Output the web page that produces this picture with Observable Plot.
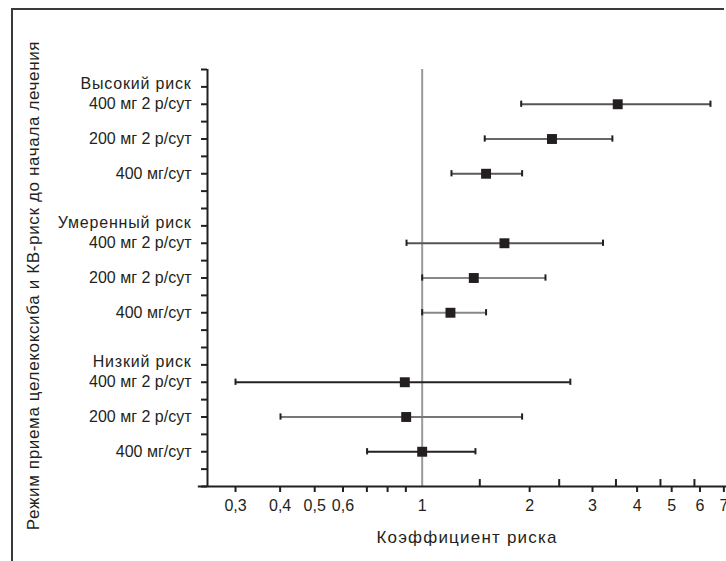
<!DOCTYPE html>
<html>
<head>
<meta charset="utf-8">
<script src="https://cdn.jsdelivr.net/npm/d3@7"></script>
<script src="https://cdn.jsdelivr.net/npm/@observablehq/plot@0.6"></script>
<style>
  html, body { margin: 0; padding: 0; background: #fff; }
  #wrap { position: relative; width: 726px; height: 561px; overflow: hidden; }
  #border { position: absolute; left: 11px; top: 8px; width: 711px; height: 600px;
            border-top: 2px solid #3a3a3a; border-left: 2px solid #3a3a3a; pointer-events: none; }
  svg { font-family: "Liberation Sans", Arial, sans-serif; }
</style>
</head>
<body>
<div id="wrap"><div id="border"></div></div>
<script>
// ---- data ----
const rowPos   = [2, 4, 6, 10, 12, 14, 18, 20, 22];
const rowLabel = ["400 мг 2 р/сут", "200 мг 2 р/сут", "400 мг/сут",
                  "400 мг 2 р/сут", "200 мг 2 р/сут", "400 мг/сут",
                  "400 мг 2 р/сут", "200 мг 2 р/сут", "400 мг/сут"];
const hr       = [3.53, 2.31, 1.51, 1.70, 1.395, 1.20, 0.894, 0.902, 1.0];
const ciLow    = [1.894, 1.497, 1.208, 0.904, 1.0, 1.0, 0.30, 0.401, 0.701];
const ciHigh   = [6.42, 3.41, 1.905, 3.21, 2.215, 1.51, 2.60, 1.905, 1.41];
const barColor = ["#555", "#666", "#5a5a5a", "#555", "#888", "#888", "#222", "#777", "#222"];

const groupPos   = [1, 9, 17];
const groupLabel = ["Высокий риск", "Умеренный риск", "Низкий риск"];

const xTickVals  = [0.3, 0.4, 0.5, 0.6, 0.7, 0.8, 0.9, 2, 3, 4, 5, 6, 7];
const xLabelVals = [0.3, 0.4, 0.5, 0.6, 0.8, 1, 2, 3, 4, 5, 6, 7];
const xLabelText = ["0,3", "0,4", "0,5", "0,6", "0,8", "1", "2", "3", "4", "5", "6", "7"];
const xInnerTicks = [1.45, 2.42, 3.49, 4.65, 5.79];

const yTitle = "Режим приема целекоксиба и КВ-риск до начала лечения";
const xTitle = "Коэффициент риска";

// ---- build ----
const rows = rowPos.map((p, i) => ({pos: p, label: rowLabel[i], hr: hr[i], lo: ciLow[i], hi: ciHigh[i], color: barColor[i]}));
const caps = rows.flatMap(r => [{pos: r.pos, x: r.lo}, {pos: r.pos, x: r.hi}]);
const rowLabelMap = new Map(rowPos.map((p, i) => [p, rowLabel[i]]));
const groups = groupPos.map((p, i) => ({pos: p, label: groupLabel[i]}));
const xLabelMap = new Map(xLabelVals.map((v, i) => [v, xLabelText[i]]));

const ink = "#231f20";
const fs = 16;
const xMin = 0.2504, xMax = 7.12;

const chart = Plot.plot({
  width: 726,
  height: 561,
  marginLeft: 207,
  marginRight: 0,
  marginTop: 69,
  marginBottom: 75,
  style: {fontFamily: "'Liberation Sans', Arial, sans-serif", fontSize: fs + "px", color: ink, background: "transparent"},
  x: {type: "log", domain: [xMin, xMax]},
  y: {domain: [0, 24], reverse: true},
  marks: [
    // reference line at HR = 1
    Plot.ruleX([1], {y1: 0, y2: 24, stroke: "#9a9a9a", strokeWidth: 2}),
    // axis lines
    Plot.ruleY([24], {x1: 0.236, x2: xMax, stroke: ink, strokeWidth: 2}),
    Plot.ruleX([xMin], {y1: 0, y2: 24, stroke: ink, strokeWidth: 2}),
    // y axis ticks + row labels
    Plot.axisY({ticks: d3.range(0, 25), tickSize: 6, tickPadding: 10, strokeWidth: 2, stroke: ink,
                tickFormat: d => rowLabelMap.get(d) ?? "", label: null, fontSize: fs, fill: ink}),
    // group headers
    Plot.text(groups, {x: xMin, y: "pos", text: "label", dx: -16, dy: -3, textAnchor: "end",
                       fontSize: fs, fill: ink}),
    // x axis ticks (outward)
    Plot.axisX({ticks: xTickVals, tickSize: 6, tickPadding: 0, strokeWidth: 2, stroke: ink,
                tickFormat: () => "", label: null}),
    // x axis labels
    Plot.axisX({ticks: xLabelVals, tickSize: 0, tickPadding: 13, fill: ink, fontSize: fs,
                tickFormat: d => xLabelMap.get(d), label: null}),
    // inner x ticks
    Plot.ruleX(xInnerTicks, {y1: 24, y2: 23.6, stroke: ink, strokeWidth: 2}),
    // CI bars
    Plot.ruleY(rows, {y: "pos", x1: "lo", x2: "hi", stroke: "color", strokeWidth: 2}),
    // caps
    Plot.ruleX(caps, {x: "x", y1: d => d.pos - 0.18, y2: d => d.pos + 0.18, stroke: ink, strokeWidth: 2}),
    // point estimates
    Plot.dot(rows, {x: "hr", y: "pos", symbol: "square", r: 5.6, fill: ink, stroke: "none"}),
    // titles
    Plot.text([yTitle], {frameAnchor: "left", dx: -174, dy: 7.5, rotate: -90, fontSize: 17, fill: ink,
                         textAnchor: "middle"}),
    Plot.text([xTitle], {frameAnchor: "bottom", dy: 51, fontSize: 17, fill: ink, textAnchor: "middle",
                         lineAnchor: "middle"})
  ]
});
// letter spacing to match the wider lettering of the original
const spacing = new Map([...groupLabel.map(t => [t, "0.8px"]), [yTitle, "0.65px"], [xTitle, "1.2px"]]);
d3.select(chart).selectAll("text").each(function () {
  const s = spacing.get(this.textContent);
  if (s) this.style.letterSpacing = s;
});
document.getElementById("wrap").prepend(chart);
</script>
</body>
</html>
